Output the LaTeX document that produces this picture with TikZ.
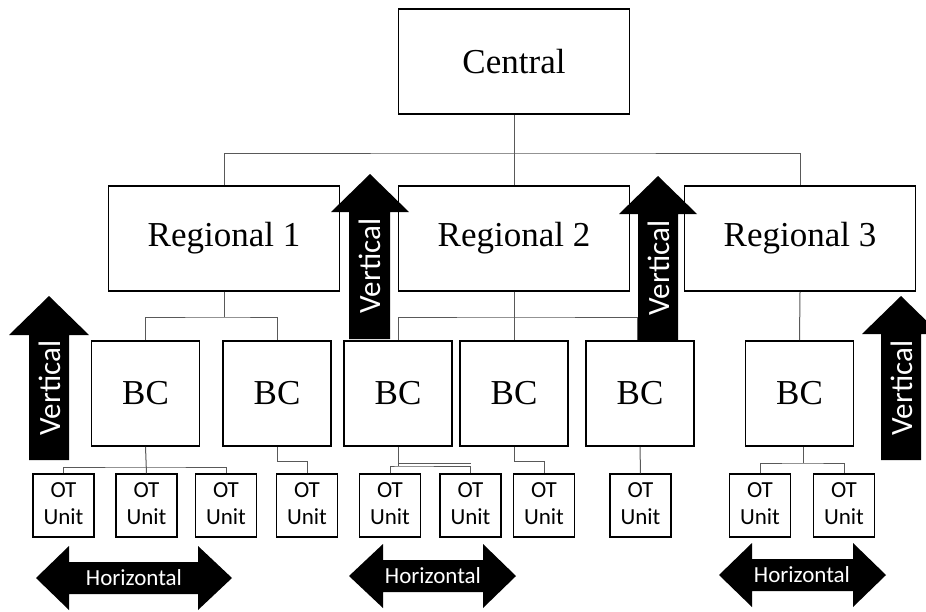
\documentclass[tikz,border=0pt]{standalone}
\usepackage{fontspec}
\setmainfont{Liberation Serif}
\newfontfamily\calib{Carlito}
\newcommand{\otlabel}{\raisebox{-3pt}{\begin{tabular}{@{}c@{}}OT\\Unit\end{tabular}}}
\begin{document}
\begin{tikzpicture}[x=1pt,y=-1pt,
  bigbox/.style={draw=black,line width=1.6pt,fill=white,minimum width=231pt,minimum height=105pt,inner sep=0pt,font=\fontsize{35}{40}\selectfont},
  bcbox/.style={draw=black,line width=1.6pt,fill=white,minimum width=108pt,minimum height=105pt,inner sep=0pt,font=\fontsize{35}{40}\selectfont},
  otbox/.style={draw=black,line width=1.4pt,fill=white,minimum width=61pt,minimum height=63pt,inner sep=0pt,font=\calib\fontsize{23}{27}\selectfont},
  conn/.style={draw=black!65,line width=1pt},
  arrowfill/.style={fill=black},
  vlabel/.style={text=white,rotate=90,inner sep=0pt,font=\calib\fontsize{31}{36}\selectfont},
  hlabel/.style={text=white,inner sep=0pt,font=\calib\fontsize{23}{28}\selectfont}]
\useasboundingbox (0,0) rectangle (926,611);

% boxes
\node[bigbox] (central) at (514,61.5) {Central};
\node[bigbox] (r1) at (224,238.5) {Regional 1};
\node[bigbox] (r2) at (514,238.5) {Regional 2};
\node[bigbox] (r3) at (800,238.5) {Regional 3};

\node[bcbox] (bc1) at (145.5,393.5) {BC};
\node[bcbox] (bc2) at (277,393.5) {BC};
\node[bcbox] (bc3) at (398,393.5) {BC};
\node[bcbox] (bc4) at (514,393.5) {BC};
\node[bcbox] (bc5) at (640,393.5) {BC};
\node[bcbox] (bc6) at (799.5,393.5) {BC};

\node[otbox] (ot1) at (63.5,505.5) {\otlabel};
\node[otbox] (ot2) at (146.5,505.5) {\otlabel};
\node[otbox] (ot3) at (226,505.5) {\otlabel};
\node[otbox] (ot4) at (307,505.5) {\otlabel};
\node[otbox] (ot5) at (390,505.5) {\otlabel};
\node[otbox] (ot6) at (470.5,505.5) {\otlabel};
\node[otbox] (ot7) at (544,505.5) {\otlabel};
\node[otbox] (ot8) at (640.5,505.5) {\otlabel};
\node[otbox] (ot9) at (760,505.5) {\otlabel};
\node[otbox] (ot10) at (844,505.5) {\otlabel};

% bus coordinates
\coordinate (cbus) at (514,153);
\coordinate (r1bus) at (224,317);
\coordinate (r2bus) at (514,317);
\coordinate (b1bus) at (146,467);
\coordinate (b2bus) at (277,461);
\coordinate (b3bus) at (398,466);
\coordinate (b4bus) at (514,461);
\coordinate (b6bus) at (803,463);

% connectors
\draw[conn] (central.south) -- (cbus);
\draw[conn] (r1.north) |- (cbus) -| (r3.north);
\draw[conn] (cbus) -- (r2.north);

\draw[conn] (r1.south) -- (r1bus);
\draw[conn] (bc1.north) |- (r1bus) -| (bc2.north);

\draw[conn] (r2.south) -- (r2bus);
\draw[conn] (bc3.north) |- (r2bus) -| ([xshift=-3pt]bc5.north);
\draw[conn] (r2bus) -- (bc4.north);

\draw[conn] (r3.south) -- (bc6.north);

\draw[conn] (bc1.south) -- (ot2.north);
\draw[conn] (ot1.north) |- (b1bus) -| (ot3.north);

\draw[conn] (bc2.south) -- (b2bus) -| (ot4.north);

\draw[conn] (bc3.south) -- (b3bus);
\draw[conn] (ot5.north) |- (b3bus) -| (ot6.north);
\draw[conn] ([yshift=2.6pt]b3bus) -- ([yshift=2.6pt]b3bus -| ot6.north);

\draw[conn] (bc4.south) -- (b4bus) -| (ot7.north);
\draw[conn] (bc5.south) -- (ot8.north);

\draw[conn] ([xshift=3.5pt]bc6.south) -- (b6bus);
\draw[conn] (ot9.north) |- (b6bus) -| (ot10.north);

% vertical arrows
\fill[arrowfill] (29,460) -- (29,335) -- (9,335) -- (49,296) -- (89,335) -- (69,335) -- (69,460) -- cycle;
\fill[arrowfill] (349,339) -- (349,212) -- (331,212) -- (370,174) -- (409,212) -- (390,212) -- (390,339) -- cycle;
\fill[arrowfill] (638,340) -- (638,214) -- (619,214) -- (658,176) -- (697,214) -- (678,214) -- (678,340) -- cycle;
\fill[arrowfill] (881,460) -- (881,334) -- (862,334) -- (901,296) -- (940,334) -- (921,334) -- (921,460) -- cycle;

\node[vlabel] (v1) at (50,388) {Vertical};
\node[vlabel] (v2) at (370,266) {Vertical};
\node[vlabel] (v3) at (659,268) {Vertical};
\node[vlabel] (v4) at (902,388) {Vertical};

% horizontal arrows
\fill[arrowfill] (36,578) -- (69,546) -- (69,562) -- (198,562) -- (198,546) -- (232,578) -- (198,610) -- (198,594) -- (69,594) -- (69,610) -- cycle;
\fill[arrowfill] (349,576) -- (383,544) -- (383,560) -- (483,560) -- (483,544) -- (516,576) -- (483,608) -- (483,592) -- (383,592) -- (383,608) -- cycle;
\fill[arrowfill] (719,575) -- (752,543) -- (752,559) -- (853,559) -- (853,543) -- (886,575) -- (853,607) -- (853,591) -- (752,591) -- (752,607) -- cycle;

\node[hlabel] (h1) at (134,578) {Horizontal};
\node[hlabel] (h2) at (433,576) {Horizontal};
\node[hlabel] (h3) at (802,575) {Horizontal};
\end{tikzpicture}
\end{document}
